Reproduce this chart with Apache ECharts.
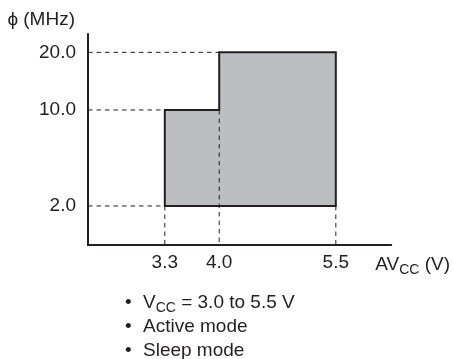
<!DOCTYPE html>
<html>
<head>
<meta charset="utf-8">
<script src="https://cdn.jsdelivr.net/npm/echarts@6/dist/echarts.min.js"></script>
<style>
  html, body { margin: 0; padding: 0; background: #fff; }
  #chart { width: 453px; height: 359px; }
</style>
</head>
<body>
<div id="chart"></div>
<script>
// tick labels
const voltTicks = [3.3, 4.0, 5.5];
const freqTicks = [2.0, 10.0, 20.0];

// operating region outline (AVcc, phi)
const regionVolt = [3.3, 3.3, 4.0, 4.0, 5.5, 5.5];
const regionFreq = [2.0, 10.0, 10.0, 20.0, 20.0, 2.0];

// dashed guides: horizontal ones run from the y axis, vertical ones down to the x axis
const hGuideFreq = [20.0, 10.0, 2.0];
const hGuideVolt = [4.0, 3.3, 3.3];
const vGuideVolt = [3.3, 4.0, 5.5];
const vGuideFreq = [2.0, 10.0, 2.0];

const notes = ['V{sub|CC} = 3.0 to 5.5 V', 'Active mode', 'Sleep mode'];

// the frequency axis is drawn schematic (not to scale), so map phi onto 0..1
const yKnotPos = [0.185, 0.64, 0.913];
function yMap(f) {
  for (let i = 0; i < freqTicks.length - 1; i++) {
    if (f <= freqTicks[i + 1] || i === freqTicks.length - 2) {
      const t = (f - freqTicks[i]) / (freqTicks[i + 1] - freqTicks[i]);
      return yKnotPos[i] + t * (yKnotPos[i + 1] - yKnotPos[i]);
    }
  }
}

const X_MIN = 2.312, X_MAX = 6.213;
const INK = '#231f20';
const FONT = '"Liberation Sans", Arial, Helvetica, sans-serif';
const FS = 19;

const chart = echarts.init(document.getElementById('chart'));

const regionPts = regionVolt.map((v, i) => [v, yMap(regionFreq[i])]);

const guideSeries = [];
hGuideFreq.forEach((f, i) => {
  guideSeries.push([[X_MIN, yMap(f)], [hGuideVolt[i], yMap(f)]]);
});
vGuideVolt.forEach((v, i) => {
  guideSeries.push([[v, yMap(vGuideFreq[i])], [v, 0]]);
});

const option = {
  animation: false,
  grid: { left: 88, right: 61, top: 34, bottom: 114 },
  xAxis: {
    type: 'value',
    min: X_MIN,
    max: X_MAX,
    name: 'AV{sub|CC} (V)',
    nameLocation: 'end',
    nameGap: -16,
    nameTextStyle: {
      color: INK, fontSize: FS, fontFamily: FONT,
      align: 'left', verticalAlign: 'top', padding: [8, 0, 0, 0],
      rich: { sub: { fontSize: 14, fontFamily: FONT, color: INK, padding: [10, 0, 0, 0] } }
    },
    axisLine: { onZero: false, lineStyle: { color: INK, width: 2 } },
    axisTick: { show: false },
    splitLine: { show: false },
    axisLabel: {
      customValues: voltTicks,
      formatter: v => v.toFixed(1),
      color: INK, fontSize: FS, fontFamily: FONT, margin: 8
    }
  },
  yAxis: {
    type: 'value',
    min: 0,
    max: 1,
    name: 'ϕ (MHz)',
    nameLocation: 'end',
    nameGap: 14,
    nameTextStyle: {
      color: INK, fontSize: FS, fontFamily: FONT,
      align: 'right', verticalAlign: 'middle', padding: [0, 13, 0, 0]
    },
    axisLine: { onZero: false, lineStyle: { color: INK, width: 2 } },
    axisTick: { show: false },
    splitLine: { show: false },
    axisLabel: {
      customValues: freqTicks.map(yMap),
      formatter: v => {
        const i = freqTicks.findIndex(f => Math.abs(yMap(f) - v) < 1e-6);
        return i >= 0 ? freqTicks[i].toFixed(1) : '';
      },
      color: INK, fontSize: FS, fontFamily: FONT, margin: 12
    }
  },
  series: [
    {
      type: 'custom',
      z: 2,
      data: regionPts,
      renderItem: (params, api) => {
        if (params.dataIndex !== 0) return;
        return {
          type: 'polygon',
          shape: { points: regionPts.map(p => api.coord(p)) },
          style: { fill: '#bdbec2', stroke: INK, lineWidth: 2, lineJoin: 'miter' }
        };
      }
    },
    ...guideSeries.map(d => ({
      type: 'line',
      z: 3,
      data: d,
      symbol: 'none',
      silent: true,
      lineStyle: { color: INK, width: 1, type: [4.5, 4] }
    }))
  ],
  graphic: notes.map((t, i) => ({
    type: 'group',
    x: 125,
    y: 303 + i * 24,
    children: [
      { type: 'text', x: 0, y: 0, style: { text: '•', fill: INK, fontSize: FS, fontFamily: FONT, verticalAlign: 'middle' } },
      {
        type: 'text', x: 18, y: 0,
        style: {
          text: t, fill: INK, fontSize: FS, fontFamily: FONT, verticalAlign: 'middle',
          rich: { sub: { fontSize: 14, fontFamily: FONT, fill: INK, padding: [10, 0, 0, 0] } }
        }
      }
    ]
  }))
};

chart.setOption(option);
</script>
</body>
</html>
